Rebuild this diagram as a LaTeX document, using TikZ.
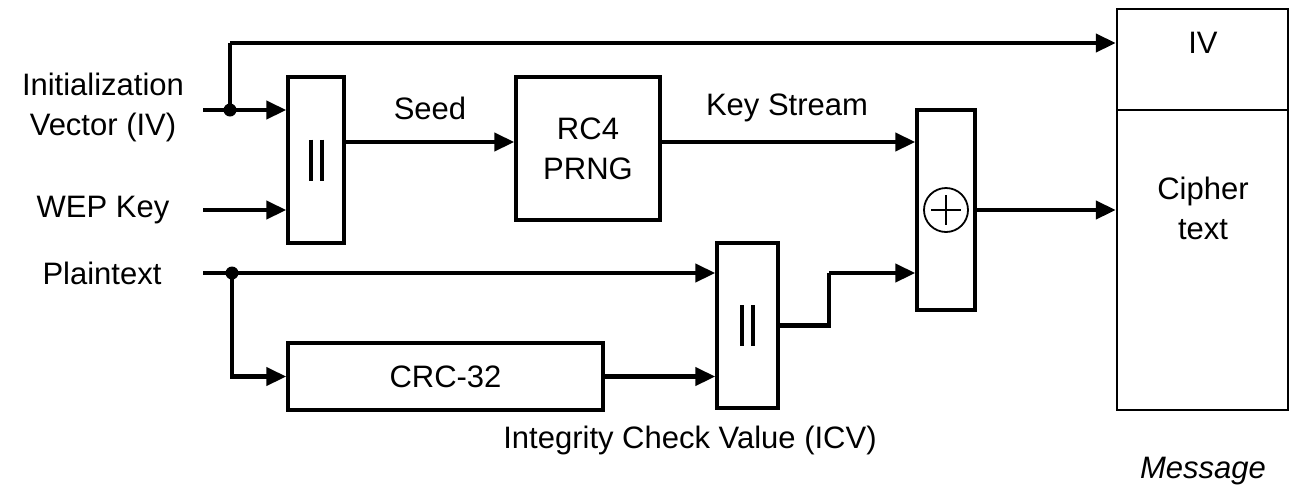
\documentclass[tikz,border=0pt]{standalone}
\usepackage{fontspec}
\setmainfont{Liberation Sans}
\usetikzlibrary{arrows.meta,calc}
\begin{document}
\begin{tikzpicture}[x=1pt,y=-1pt,
  lbl/.style={font=\fontsize{31}{40}\selectfont, align=center, inner sep=0pt},
  blk/.style={draw, line width=3.5pt, inner sep=0pt, font=\fontsize{31}{40}\selectfont, align=center},
  msgbox/.style={draw, line width=2.5pt, inner sep=0pt},
  arr/.style={line width=4.5pt, -{Triangle[length=20pt,width=18pt]}},
  ln/.style={line width=4.5pt},
  bar/.style={line width=4pt},
  dotc/.style={circle, fill, inner sep=0pt, minimum size=13pt}]
\useasboundingbox (0,0) rectangle (1294,491);

% labels
\node[lbl] (ivlab) at (103,107) {Initialization\\Vector (IV)};
\node[lbl] (weplab) at (103,210) {WEP Key};
\node[lbl] (ptlab) at (102,273) {Plaintext};

% blocks
\node[blk, minimum width=56pt, minimum height=166pt] (cat1) at (316,160) {};
\draw[bar] ($(cat1.center)+(-5.5,-20.5)$) -- ++(0,41);
\draw[bar] ($(cat1.center)+(5.5,-20.5)$) -- ++(0,41);
\node[blk, minimum width=144pt, minimum height=143pt] (rc4) at (588,148.5) {RC4\\PRNG};
\node[blk, minimum width=58pt, minimum height=200pt] (xor) at (946,210) {};
\node[draw, circle, line width=1.8pt, minimum size=44pt, inner sep=0pt] (xc) at (xor.center) {};
\draw[line width=1.8pt] ($(xc.center)+(0,-15)$) -- ++(0,30) ($(xc.center)+(-15,0)$) -- ++(30,0);
\node[blk, minimum width=61pt, minimum height=165pt] (cat2) at (747.5,325.5) {};
\draw[bar] ($(cat2.center)+(-5.5,-20.5)$) -- ++(0,41);
\draw[bar] ($(cat2.center)+(5.5,-20.5)$) -- ++(0,41);
\node[blk, minimum width=315pt, minimum height=67pt] (crc) at (445.5,376.5) {CRC-32};

% message
\node[msgbox, minimum width=171pt, minimum height=101pt] (msgiv) at (1202.5,59.5) {};
\node[msgbox, minimum width=171pt, minimum height=300pt] (msgct) at (1202.5,260) {};
\node[lbl] (ivtxt) at (1203,43) {IV};
\node[lbl] (cttxt) at (1203,208) {Cipher\\text};
\node[lbl, font=\fontsize{31}{40}\selectfont\itshape] (msglab) at (1203,471) {Message};

% edge labels
\node[lbl] (seedlab) at (430,108) {Seed};
\node[lbl] (kslab) at (787,108) {Key Stream};
\node[lbl] (icvlab) at (690,440) {Integrity Check Value (ICV)};

% coordinates
\coordinate (ivs) at (203,110);
\coordinate (weps) at (203,210);
\coordinate (pts) at (203,273);
\node[dotc] (ivdot) at (230,110) {};
\node[dotc] (ptdot) at (232,273) {};
\coordinate (topc) at (230,43);
\coordinate (bend1) at (829,325.5);
\coordinate (bend2) at (829,273);

% connectors
\draw[arr] (ivs) -- (cat1.west |- ivs);
\draw[ln] (ivdot.center) -- (topc);
\draw[arr] (topc) -- (msgiv.west |- topc);
\draw[arr] (weps) -- (cat1.west |- weps);
\draw[arr] (cat1.east |- 0,142) -- (rc4.west |- 0,142);
\draw[arr] (rc4.east |- 0,142) -- (xor.west |- 0,142);
\draw[arr] (xor.east) -- (msgct.west |- xor.east);
\draw[arr] (pts) -- (cat2.west |- pts);
\draw[arr] (ptdot.center) |- (crc.west);
\draw[arr] (crc.east) -- (cat2.west |- crc.east);
\draw[ln] (cat2.east |- bend1) -- (bend1) -- (bend2);
\draw[arr] (bend2) -- (xor.west |- bend2);
\end{tikzpicture}
\end{document}
